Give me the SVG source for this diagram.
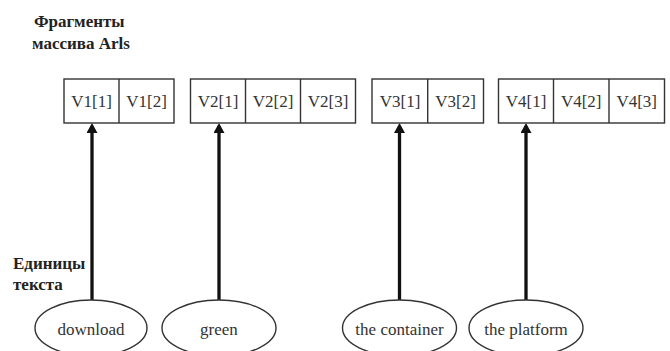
<svg xmlns="http://www.w3.org/2000/svg" width="670" height="351" viewBox="0 0 670 351" font-family="'Liberation Serif', 'Times New Roman', 'DejaVu Serif', serif">
<defs>
<style>
.cell{fill:#fff;stroke:#333;stroke-width:1.4}
.div{stroke:#333;stroke-width:1.4}
.ct{font-size:17px;fill:#333;text-anchor:middle}
.el{fill:#fff;stroke:#333;stroke-width:1.4}
.lbl{font-size:17px;font-weight:bold;fill:#222}
.con{stroke:#111;stroke-width:3.3;fill:none;marker-end:url(#ah)}
</style>
<marker id="ah" markerWidth="10" markerHeight="11" refX="7" refY="5.5" orient="auto" markerUnits="userSpaceOnUse" viewBox="0 0 10 11">
<path d="M0,0 L10,5.5 L0,11 z" fill="#111"/>
</marker>
</defs>
<rect width="670" height="351" fill="#fff"/>
<text class="lbl" x="34" y="27">Фрагменты</text>
<text class="lbl" x="32" y="49">массива Arls</text>
<text class="lbl" x="13" y="269">Единицы</text>
<text class="lbl" x="13" y="290">текста</text>
<g id="connectors">
<line class="con" x1="92" y1="300" x2="92" y2="126"/>
<line class="con" x1="219" y1="300" x2="219" y2="126"/>
<line class="con" x1="399.5" y1="300" x2="399.5" y2="126"/>
<line class="con" x1="526" y1="300" x2="526" y2="126"/>
</g>
<g id="V1">
<rect class="cell" x="64" y="79" width="110" height="44"/>
<line class="div" x1="119" y1="79" x2="119" y2="123"/>
<text class="ct" x="91.5" y="107">V1[1]</text>
<text class="ct" x="146.5" y="107">V1[2]</text>
</g>
<g id="V2">
<rect class="cell" x="190.5" y="79" width="165" height="44"/>
<line class="div" x1="245.5" y1="79" x2="245.5" y2="123"/>
<line class="div" x1="300.5" y1="79" x2="300.5" y2="123"/>
<text class="ct" x="218" y="107">V2[1]</text>
<text class="ct" x="273" y="107">V2[2]</text>
<text class="ct" x="328" y="107">V2[3]</text>
</g>
<g id="V3">
<rect class="cell" x="372" y="79" width="111.5" height="44"/>
<line class="div" x1="427.7" y1="79" x2="427.7" y2="123"/>
<text class="ct" x="400" y="107">V3[1]</text>
<text class="ct" x="455.5" y="107">V3[2]</text>
</g>
<g id="V4">
<rect class="cell" x="498.5" y="79" width="166" height="44"/>
<line class="div" x1="553.5" y1="79" x2="553.5" y2="123"/>
<line class="div" x1="609" y1="79" x2="609" y2="123"/>
<text class="ct" x="526" y="107">V4[1]</text>
<text class="ct" x="581.2" y="107">V4[2]</text>
<text class="ct" x="636.7" y="107">V4[3]</text>
</g>
<g id="download">
<ellipse class="el" cx="91" cy="328" rx="56" ry="28"/>
<text class="ct" x="91" y="335">download</text>
</g>
<g id="green">
<ellipse class="el" cx="219" cy="328" rx="57" ry="28"/>
<text class="ct" x="219" y="335">green</text>
</g>
<g id="the-container">
<ellipse class="el" cx="399.5" cy="328" rx="57" ry="28"/>
<text class="ct" x="399.5" y="335">the container</text>
</g>
<g id="the-platform">
<ellipse class="el" cx="526" cy="328" rx="57" ry="28"/>
<text class="ct" x="526" y="335">the platform</text>
</g>
</svg>
